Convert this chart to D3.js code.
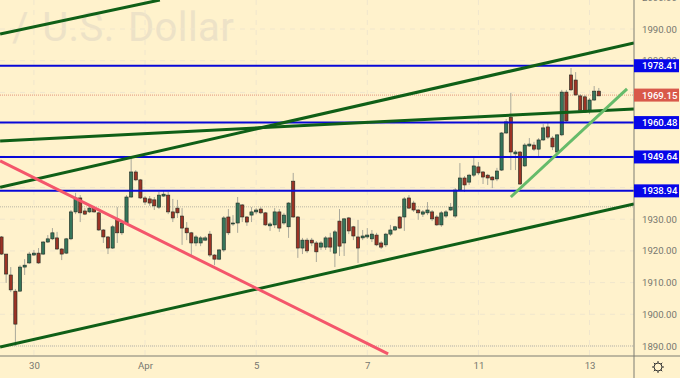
<!DOCTYPE html>
<html>
<head>
<meta charset="utf-8">
<script src="https://cdn.jsdelivr.net/npm/d3@7"></script>
<style>
  html, body { margin: 0; padding: 0; background: #fff2cc; overflow: hidden; }
  text { font-family: Roboto, sans-serif; }
</style>
</head>
<body>
<script>
// candles (two hour bars)
var opens = [
  1924.4,1919.0,1912.4,1907.3,1907.3,1914.9,1916.2,1918.7,1919.3,1919.0,
  1922.8,1923.8,1924.1,1920.6,1919.3,1923.8,1932.3,1936.7,1932.6,1932.3,
  1933.5,1932.0,1926.6,1924.4,1920.9,1930.1,1925.7,1928.8,1937.0,1944.9,
  1942.4,1936.7,1936.4,1936.1,1933.8,1937.3,1937.6,1932.3,1933.5,1931.0,
  1927.2,1925.7,1922.5,1922.5,1923.4,1925.3,1918.7,1917.4,1920.3,1930.7,
  1928.5,1928.8,1934.5,1930.7,1931.3,1932.3,1933.2,1932.0,1927.9,1928.2,
  1932.3,1928.8,1927.6,1942.0,1930.7,1920.9,1923.4,1923.4,1922.5,1921.2,
  1921.2,1924.1,1919.3,1929.4,1922.5,1930.4,1927.6,1924.4,1924.1,1924.4,
  1923.8,1925.0,1922.5,1921.9,1925.3,1926.6,1930.7,1930.7,1936.7,1935.1,
  1932.9,1931.6,1932.0,1932.3,1930.7,1928.2,1931.0,1932.9,1931.0,1939.2,
  1943.0,1941.7,1943.9,1946.5,1944.9,1943.9,1943.3,1942.7,1945.5,1957.2,
  1962.2,1950.6,1951.2,1946.8,1953.1,1953.4,1952.1,1955.0,1959.1,1955.6,
  1951.2,1956.6,1970.1,1975.5,1973.9,1968.9,1968.6,1964.4,1967.6,1970.4];
var highs = [
  1924.7,1919.0,1914.9,1908.0,1915.5,1917.4,1919.7,1920.3,1920.9,1923.1,
  1925.0,1927.2,1926.0,1920.9,1924.1,1932.9,1938.3,1937.6,1933.5,1934.8,
  1934.2,1932.3,1926.9,1924.7,1928.2,1933.8,1929.1,1937.6,1949.3,1945.5,
  1942.7,1937.3,1937.3,1937.0,1938.6,1938.9,1938.6,1936.4,1936.1,1933.5,
  1929.1,1926.0,1925.0,1924.7,1924.7,1926.3,1919.0,1920.6,1931.0,1933.2,
  1931.3,1937.0,1934.8,1931.0,1933.8,1933.5,1933.8,1932.3,1929.1,1933.5,
  1933.2,1932.0,1935.4,1944.6,1931.0,1924.1,1924.1,1924.1,1923.1,1923.1,
  1924.7,1925.7,1926.6,1933.2,1930.4,1930.7,1927.9,1929.8,1926.6,1927.2,
  1926.6,1925.7,1923.1,1925.7,1928.2,1927.9,1931.0,1937.0,1937.6,1935.8,
  1933.2,1932.9,1935.4,1932.9,1931.3,1932.6,1932.9,1935.1,1939.8,1947.7,
  1943.6,1944.3,1949.6,1948.0,1945.2,1944.3,1943.6,1946.2,1957.5,1961.6,
  1969.8,1951.8,1951.5,1954.0,1955.6,1954.4,1955.6,1960.0,1960.4,1956.2,
  1956.9,1970.8,1970.8,1977.7,1976.4,1969.5,1969.2,1968.2,1972.0,1971.4];
var lows = [
  1918.7,1909.9,1907.0,1890.0,1907.3,1912.4,1915.9,1918.4,1915.9,1918.7,
  1922.5,1923.4,1920.3,1917.1,1919.0,1923.4,1931.6,1929.1,1931.3,1932.0,
  1932.0,1926.3,1922.5,1919.0,1920.6,1922.5,1925.0,1928.5,1936.7,1942.0,
  1936.4,1934.5,1934.2,1932.9,1933.2,1937.0,1931.6,1929.1,1930.4,1921.9,
  1923.4,1918.7,1921.5,1921.5,1923.1,1918.1,1915.5,1917.1,1919.7,1925.0,
  1927.9,1925.7,1929.1,1927.9,1929.1,1931.6,1931.6,1927.9,1926.3,1927.2,
  1926.0,1928.2,1924.1,1930.4,1917.8,1919.0,1919.3,1921.5,1916.5,1920.3,
  1920.3,1919.7,1914.9,1918.4,1918.4,1925.3,1923.4,1916.2,1923.4,1923.8,
  1922.8,1921.5,1920.6,1921.2,1924.7,1926.3,1926.9,1926.3,1933.2,1932.3,
  1929.8,1930.7,1931.3,1929.4,1927.9,1927.6,1930.4,1932.6,1930.4,1938.9,
  1938.6,1940.8,1943.3,1943.9,1941.1,1940.8,1939.8,1942.0,1945.2,1956.9,
  1945.5,1945.5,1940.8,1946.5,1952.8,1951.5,1949.6,1954.7,1955.3,1951.8,
  1950.9,1956.2,1960.7,1970.4,1968.9,1963.8,1963.5,1963.2,1967.3,1968.9];
var closes = [
  1919.0,1912.7,1907.7,1896.9,1914.9,1915.5,1919.0,1919.3,1916.2,1922.8,
  1923.8,1925.7,1920.6,1919.0,1923.8,1932.3,1936.7,1932.0,1931.6,1933.5,
  1932.3,1926.6,1924.4,1920.9,1927.6,1925.7,1928.8,1937.0,1944.9,1942.4,
  1936.7,1935.4,1935.1,1934.2,1937.6,1937.9,1932.3,1930.4,1932.0,1927.2,
  1925.7,1922.5,1924.4,1924.1,1924.1,1918.7,1917.4,1920.3,1930.4,1925.7,
  1928.8,1935.1,1930.7,1929.1,1932.3,1932.9,1932.0,1928.2,1928.5,1932.3,
  1927.2,1931.3,1935.1,1930.7,1920.9,1923.4,1920.0,1922.5,1919.7,1922.5,
  1924.1,1921.2,1926.0,1921.5,1930.1,1926.3,1924.7,1920.9,1924.7,1925.0,
  1925.3,1921.9,1921.2,1925.3,1926.6,1927.6,1927.2,1936.4,1933.5,1932.9,
  1932.0,1932.3,1932.9,1930.1,1928.2,1932.0,1932.3,1933.8,1939.2,1943.0,
  1940.8,1943.9,1946.8,1944.6,1943.3,1943.0,1942.4,1945.2,1957.2,1960.7,
  1951.2,1951.2,1941.1,1953.4,1953.7,1952.1,1955.0,1958.8,1955.9,1952.8,
  1956.6,1970.1,1961.0,1970.8,1969.2,1964.4,1963.8,1967.6,1970.4,1968.9];

var dayIdx = [7, 31, 55, 79, 103, 127],
    dayLabels = ["30", "Apr", "5", "7", "11", "13"];
var gridPrices = [1890, 1900, 1910, 1920, 1930, 1940, 1950, 1960, 1970, 1980, 1990, 2000];
// the tags cover 1940 to 1970 on the price scale
var priceLabels = [1890, 1900, 1910, 1920, 1930, 1980, 1990, 2000];
var levels = [1978.41, 1960.48, 1949.64, 1938.94];
var dottedLevels = [1933.9, 1890];
var lastPrice = 1969.15;

// trend lines as [bar index, price] pairs
var darkLines = [
  [[-0.3, 1988.4], [34.2, 1999.15]],
  [[-0.3, 1940.1], [136.6, 1985.6]],
  [[-0.3, 1954.7], [136.6, 1964.8]],
  [[-0.3, 1889.7], [136.6, 1934.8]]
];
var pinkLine = [[-0.3, 1948.4], [83.5, 1887.5]];
var lightLine = [[110, 1937.0], [135.1, 1971.1]];

var width = 680, height = 378,
    plot = {right: 634, bottom: 356};

var svg = d3.select("body").append("svg")
    .attr("width", width)
    .attr("height", height)
    .style("display", "block");

svg.append("defs").append("clipPath").attr("id", "plotclip")
  .append("rect")
    .attr("width", plot.right)
    .attr("height", plot.bottom);

var x = d3.scaleLinear().domain([0, 129]).range([1.5, 598.8]),
    y = d3.scaleLinear().domain([1890, 1990]).range([346, 29]);

var chart = svg.append("g").attr("clip-path", "url(#plotclip)");

// watermark
chart.append("text")
    .text("/ U.S. Dollar")
    .attr("x", 12)
    .attr("y", 41)
    .attr("font-size", 40)
    .attr("letter-spacing", 0.4)
    .attr("word-spacing", 3)
    .attr("fill", "#ede2c7");

// grid
chart.append("g").selectAll("line")
    .data(gridPrices)
    .enter().append("line")
    .attr("x1", 0).attr("x2", plot.right)
    .attr("y1", d => y(d)).attr("y2", d => y(d))
    .attr("stroke", "#f0e6cd")
    .attr("stroke-dasharray", "5 5");
chart.append("g").selectAll("line")
    .data(dayIdx)
    .enter().append("line")
    .attr("x1", d => x(d)).attr("x2", d => x(d))
    .attr("y1", 0).attr("y2", plot.bottom)
    .attr("stroke", "#f0e6cd")
    .attr("stroke-dasharray", "5 5");

chart.append("g").selectAll("line")
    .data(dottedLevels)
    .enter().append("line")
    .attr("x1", 0).attr("x2", plot.right)
    .attr("y1", d => y(d)).attr("y2", d => y(d))
    .attr("stroke", "#b9b5a5")
    .attr("stroke-dasharray", "1 1");
chart.append("line")
    .attr("x1", 0).attr("x2", plot.right)
    .attr("y1", y(lastPrice)).attr("y2", y(lastPrice))
    .attr("stroke", "#e2967f")
    .attr("stroke-dasharray", "1 1");

// candles
var bars = chart.append("g").selectAll("g")
    .data(d3.range(opens.length))
    .enter().append("g");
bars.append("line")
    .attr("x1", i => x(i)).attr("x2", i => x(i))
    .attr("y1", i => y(highs[i])).attr("y2", i => y(lows[i]))
    .attr("stroke", "#a9a89a");
bars.append("rect")
    .attr("x", i => x(i) - 1.6)
    .attr("width", 3.2)
    .attr("y", i => y(Math.max(opens[i], closes[i])))
    .attr("height", i => Math.max(1, Math.abs(y(opens[i]) - y(closes[i]))))
    .attr("fill", i => closes[i] >= opens[i] ? "#35755a" : "#9c3325")
    .attr("stroke", "#1f2a22")
    .attr("stroke-width", 0.6);

// blue levels
chart.append("g").selectAll("line")
    .data(levels)
    .enter().append("line")
    .attr("x1", 0).attr("x2", plot.right)
    .attr("y1", d => y(d)).attr("y2", d => y(d))
    .attr("stroke", "#0808d8")
    .attr("stroke-width", 2);

// trend lines
var line = d3.line().x(d => x(d[0])).y(d => y(d[1]));
chart.append("g").selectAll("path")
    .data(darkLines)
    .enter().append("path")
    .attr("d", line)
    .attr("fill", "none")
    .attr("stroke", "#0f5f17")
    .attr("stroke-width", 3);
chart.append("path")
    .attr("d", line(pinkLine))
    .attr("fill", "none")
    .attr("stroke", "#f4566b")
    .attr("stroke-width", 3);
chart.append("path")
    .attr("d", line(lightLine))
    .attr("fill", "none")
    .attr("stroke", "#66bb6a")
    .attr("stroke-width", 3);

// axes
var yAxis = d3.axisRight(y)
    .tickValues(priceLabels)
    .tickSize(0)
    .tickPadding(8)
    .tickFormat(d3.format(".2f"));
var gy = svg.append("g")
    .attr("transform", `translate(${plot.right}, 0)`)
    .call(yAxis);
var xAxis = d3.axisBottom(x)
    .tickValues(dayIdx)
    .tickSize(0)
    .tickPadding(6)
    .tickFormat((d, i) => dayLabels[i]);
var gx = svg.append("g")
    .attr("transform", `translate(0, ${plot.bottom})`)
    .call(xAxis);
gx.select(".domain").remove();
gy.select(".domain").remove();
svg.selectAll(".tick text")
    .attr("fill", "#77776f")
    .attr("font-size", 9.6)
    .style("font-family", "Roboto, sans-serif");

svg.append("line")
    .attr("x1", plot.right).attr("x2", plot.right)
    .attr("y1", 0).attr("y2", height)
    .attr("stroke", "#7c7c72");
svg.append("line")
    .attr("x1", 0).attr("x2", width)
    .attr("y1", plot.bottom).attr("y2", plot.bottom)
    .attr("stroke", "#7c7c72");

// price tags
function tag(value, color) {
  var g = svg.append("g").attr("transform", `translate(${plot.right}, ${y(value)})`);
  g.append("rect")
      .attr("y", -6.5)
      .attr("width", 45)
      .attr("height", 13)
      .attr("fill", color);
  g.append("text")
      .text(d3.format(".2f")(value))
      .attr("x", 8)
      .attr("y", 3.5)
      .attr("font-size", 9.6)
      .attr("font-weight", 500)
      .attr("fill", "#fff");
}
levels.forEach(d => tag(d, "#0606e8"));
tag(lastPrice, "#d9594a");

// settings gear
var gear = svg.append("g").attr("transform", "translate(658, 367)");
gear.append("circle")
    .attr("r", 4)
    .attr("fill", "none")
    .attr("stroke", "#333");
gear.selectAll("line")
    .data(d3.range(8))
    .enter().append("line")
    .attr("x1", d => 4 * Math.cos(d * Math.PI / 4))
    .attr("y1", d => 4 * Math.sin(d * Math.PI / 4))
    .attr("x2", d => 6 * Math.cos(d * Math.PI / 4))
    .attr("y2", d => 6 * Math.sin(d * Math.PI / 4))
    .attr("stroke", "#333");
</script>
</body>
</html>
